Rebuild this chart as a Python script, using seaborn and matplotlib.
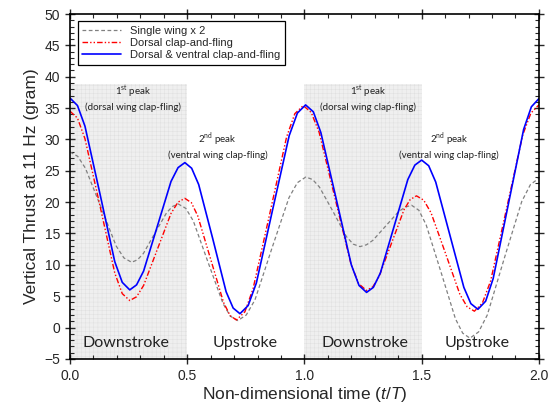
import matplotlib
matplotlib.use("Agg")
import matplotlib.pyplot as plt
import seaborn as sns
import pandas as pd
from matplotlib.ticker import MultipleLocator

sns.set_theme(style="ticks")
plt.rcParams['font.family'] = ['Liberation Sans', 'DejaVu Sans']
plt.rcParams['mathtext.fontset'] = 'custom'
plt.rcParams['mathtext.rm'] = 'Liberation Sans'
plt.rcParams['mathtext.it'] = 'Liberation Sans:italic'
plt.rcParams['hatch.color'] = '#dedede'
plt.rcParams['hatch.linewidth'] = 0.3

# Single wing x 2 (grey dashed)
t_single = [0, 0.033, 0.066, 0.132, 0.197, 0.23,
            0.263, 0.288, 0.313, 0.363, 0.412, 0.437,
            0.462, 0.494, 0.526, 0.589, 0.653, 0.684,
            0.716, 0.752, 0.789, 0.861, 0.934, 0.97,
            1.006, 1.035, 1.064, 1.122, 1.179, 1.208,
            1.237, 1.265, 1.292, 1.347, 1.402, 1.43,
            1.457, 1.488, 1.519, 1.582, 1.644, 1.675,
            1.706, 1.743, 1.78, 1.853, 1.927, 1.964, 2.0]
v_single = [28.0, 27.3, 25.4, 19.2, 13.0, 11.1,
            10.4, 10.8, 11.8, 15.1, 18.3, 19.3,
            19.7, 19.0, 17.0, 10.4, 3.8, 1.8,
            1.1, 2.0, 4.4, 12.6, 20.7, 23.1,
            24.0, 23.6, 22.4, 18.5, 14.5, 13.3,
            12.9, 13.2, 13.9, 16.2, 18.5, 19.2,
            19.5, 18.7, 16.4, 8.9, 1.4, -0.9,
            -1.7, -0.7, 2.0, 11.1, 20.1, 22.8, 23.8]

# Dorsal clap-and-fling (red dash-dot)
t_dorsal = [0, 0.032, 0.064, 0.128, 0.191, 0.223,
            0.255, 0.284, 0.314, 0.373, 0.431, 0.461,
            0.49, 0.518, 0.545, 0.6, 0.655, 0.683,
            0.71, 0.746, 0.781, 0.853, 0.924, 0.959,
            0.995, 1.029, 1.063, 1.13, 1.198, 1.231,
            1.265, 1.292, 1.318, 1.372, 1.425, 1.451,
            1.478, 1.509, 1.54, 1.602, 1.663, 1.694,
            1.725, 1.759, 1.794, 1.863, 1.931, 1.966, 2.0]
v_dorsal = [34.5, 33.4, 30.1, 19.4, 8.7, 5.4,
            4.3, 4.9, 6.7, 12.5, 18.2, 20.0,
            20.6, 19.9, 17.8, 10.9, 4.0, 1.9,
            1.2, 2.5, 6.2, 18.3, 30.4, 34.1,
            35.4, 34.3, 31.1, 20.7, 10.2, 7.0,
            5.9, 6.5, 8.1, 13.5, 18.8, 20.4,
            21.0, 20.3, 18.3, 11.8, 5.3, 3.3,
            2.6, 3.9, 7.4, 19.1, 30.7, 34.2, 35.5]

# Dorsal & ventral clap-and-fling (blue solid)
t_both = [0, 0.032, 0.064, 0.128, 0.191, 0.223,
          0.255, 0.284, 0.314, 0.373, 0.431, 0.461,
          0.49, 0.519, 0.549, 0.608, 0.666, 0.696,
          0.725, 0.76, 0.795, 0.865, 0.935, 0.97,
          1.005, 1.038, 1.07, 1.135, 1.2, 1.233,
          1.265, 1.294, 1.324, 1.383, 1.441, 1.471,
          1.50, 1.53, 1.56, 1.62, 1.68, 1.71,
          1.74, 1.773, 1.805, 1.87, 1.935, 1.968, 2.0]
v_both = [36.6, 35.4, 32.1, 21.3, 10.5, 7.2,
          6.0, 6.8, 9.0, 16.2, 23.3, 25.5,
          26.3, 25.4, 22.8, 14.3, 5.7, 3.1,
          2.2, 3.5, 7.1, 18.9, 30.6, 34.2,
          35.5, 34.4, 31.1, 20.6, 10.0, 6.7,
          5.6, 6.4, 8.7, 16.2, 23.6, 25.9,
          26.7, 25.8, 23.2, 14.8, 6.4, 3.8,
          2.9, 4.2, 7.8, 19.7, 31.6, 35.2, 36.5]

df_single = pd.DataFrame({'t': t_single, 'thrust': v_single})
df_dorsal = pd.DataFrame({'t': t_dorsal, 'thrust': v_dorsal})
df_both = pd.DataFrame({'t': t_both, 'thrust': v_both})

fig = plt.figure(figsize=(5.51, 4.12), dpi=100)
ax = fig.add_axes([0.127, 0.129, 0.851, 0.837])

# shaded downstroke regions
for x0, x1 in [(0.0, 0.5), (1.0, 1.5)]:
    ax.fill_between([x0, x1], -5, 38.8, facecolor='#efefef', edgecolor='#dedede',
                    hatch='++++', linewidth=0, zorder=0)

sns.lineplot(data=df_single, x='t', y='thrust', ax=ax, color='#808080', lw=0.9,
             label='Single wing x 2', sort=False)
sns.lineplot(data=df_dorsal, x='t', y='thrust', ax=ax, color='#ff0000', lw=1.0,
             label='Dorsal clap-and-fling', sort=False)
sns.lineplot(data=df_both, x='t', y='thrust', ax=ax, color='#0000ff', lw=1.2,
             label='Dorsal & ventral clap-and-fling', sort=False)
lines = ax.get_lines()
lines[0].set_dashes((3, 2))
lines[1].set_dashes((4, 1.5, 1, 1.5, 1, 1.5))

ax.set_xlim(0, 2.0)
ax.set_ylim(-5, 50)
ax.xaxis.set_major_locator(MultipleLocator(0.5))
ax.xaxis.set_minor_locator(MultipleLocator(0.1))
ax.yaxis.set_major_locator(MultipleLocator(5))
ax.yaxis.set_minor_locator(MultipleLocator(1))
ax.set_xticks([0, 0.5, 1.0, 1.5, 2.0])
ax.set_xticklabels(['0.0', '0.5', '1.0', '1.5', '2.0'])
ax.tick_params(which='major', direction='inout', length=7, width=1.0, labelsize=10,
               top=True, right=True)
ax.tick_params(which='minor', direction='in', length=3, width=0.8, top=True, right=True)
for s in ax.spines.values():
    s.set_linewidth(1.2)
    s.set_color('black')

ax.set_xlabel('Non-dimensional time ($\\mathit{t}$/$\\mathit{T}$)', fontsize=12.5, labelpad=2)
ax.set_ylabel('Vertical Thrust at 11 Hz (gram)', fontsize=12.5, labelpad=4)

ann = dict(fontsize=7, family='Lato', ha='center', va='center', color='#222222', linespacing=1.35)
ax.text(0.27, 36.6, '1$^{\\mathregular{st}}$ peak\n(dorsal wing clap-fling)', **ann)
ax.text(1.27, 36.6, '1$^{\\mathregular{st}}$ peak\n(dorsal wing clap-fling)', **ann)
ax.text(0.63, 29.0, '2$^{\\mathregular{nd}}$ peak\n(ventral wing clap-fling)', **ann)
ax.text(1.616, 29.0, '2$^{\\mathregular{nd}}$ peak\n(ventral wing clap-fling)', **ann)

lab = dict(fontsize=11.5, family='Lato', ha='center', va='center', color='#222222')
ax.text(0.24, -2.4, 'Downstroke', **lab)
ax.text(0.746, -2.4, 'Upstroke', **lab)
ax.text(1.26, -2.4, 'Downstroke', **lab)
ax.text(1.735, -2.4, 'Upstroke', **lab)

leg = ax.legend(loc='upper left', fontsize=8, frameon=True, fancybox=False,
                edgecolor='black', borderpad=0.4, labelspacing=0.2, handlelength=3.5,
                bbox_to_anchor=(0.005, 0.995))
leg.get_frame().set_linewidth(0.9)
leg.get_frame().set_alpha(1)

fig.savefig('out.png', dpi=100)
